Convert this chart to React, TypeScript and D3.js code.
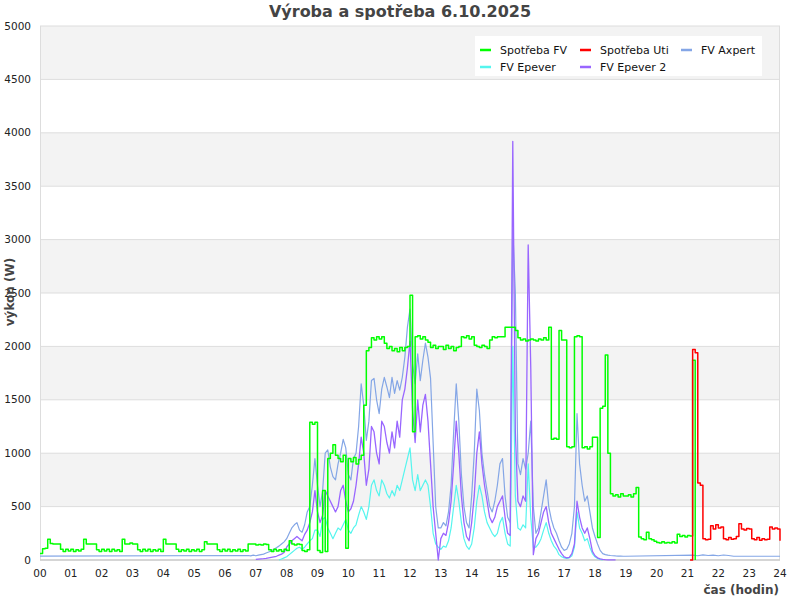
import React from "react";
import * as d3 from "d3";

// ---------- DATA ----------
const hourLabels = ["00","01","02","03","04","05","06","07","08","09","10","11","12","13","14","15","16","17","18","19","20","21","22","23","24"];
const yTicks = [0, 500, 1000, 1500, 2000, 2500, 3000, 3500, 4000, 4500, 5000];

// Spotřeba FV, 5-minute samples from 00:00
const spotrebaFVNight = [
  60,105,110,195,155,150,150,150,100,80,100,85,
  100,80,95,85,100,195,150,150,150,150,95,80,
  100,85,100,80,100,85,95,80,195,150,150,160,
  150,150,95,80,100,85,100,80,95,85,100,80,
  195,150,150,150,150,100,80,95,85,100,80,95,
  85,100,80,95,170,150,150,150,150,95,80,100,
  85,100,80,95,85,100,80,95,85,150,150,150,
  140,145,140,150,145,95,80,100,85,95,80,100,
];
// Spotřeba FV, 5-minute samples from 08:00
const spotrebaFVDay = [
  90,180,150,140,150,145,90,80,95,1290,1270,1290,
  90,70,650,80,950,1000,1080,980,950,920,980,110,
  950,920,960,900,940,980,1450,1960,1990,2080,2060,2090,
  2070,2090,2030,1980,2000,1960,1980,1950,1990,1960,1990,2000,
  2480,1200,2090,2100,2070,2090,2060,2040,1990,2010,1980,2000,
  2000,1970,2010,1980,2000,1960,1990,2000,2090,2080,2100,2070,
  2090,2010,2000,1990,2010,2000,1980,2060,2090,2080,2090,2090,
  2090,2180,2180,2180,2180,2150,2080,2060,2070,2050,2060,2070,
  2060,2050,2070,2060,2080,2060,2180,1130,1140,1130,2150,2060,
  2060,1060,1050,1060,2090,2100,2090,1050,1060,1040,1060,1150,
  1150,210,1420,1440,1920,1000,620,600,610,590,620,600,
  600,610,590,620,680,215,200,190,260,200,190,175,
  165,160,170,160,165,160,170,160,240,220,230,215,
  230,225,1870,0,
];
// Spotřeba Uti, 5-minute samples from 21:05
const spotrebaUti = [
  0,1970,1940,720,700,200,190,195,320,290,330,300,310,200,190,210,195,200,220,340,
  290,280,295,290,200,190,210,185,200,190,195,310,290,300,290,180,
];
// FV Axpert: night points [hour, W] and 5-minute samples from 07:00
const axpertNight = [[0,37],[6.75,42],[6.83,38],[6.92,45]];
const axpertDay = [
  40,45,50,55,65,75,85,100,115,130,150,170,
  200,250,300,330,350,280,260,330,450,500,700,950,
  700,500,650,1000,1030,870,780,750,900,1000,1130,1050,
  800,750,950,1000,1250,1650,1450,1120,1300,1680,1700,1500,
  1370,1600,1710,1620,1520,1710,1560,1680,1590,1710,1900,2180,
  2350,1840,1650,1930,1680,1870,2030,1900,1700,1100,500,300,
  300,350,320,450,700,1200,1650,1300,800,500,350,300,
  600,1000,1600,1400,1000,800,650,500,450,550,700,900,
  950,600,400,350,3100,2500,900,800,950,850,1000,1300,
  500,250,300,450,600,750,500,380,300,250,180,120,
  90,100,150,250,500,1370,900,700,550,600,450,300,
  220,150,90,60,50,45,42,40,38,37,36,35,
];
const axpertEvening = [[19,35],[21.17,45],[21.33,40],[21.5,48],[21.67,42],[21.83,46],[22,40],[22.17,47],[22.33,42],[22.5,35],[24,35]];
// FV Epever, 5-minute samples from 07:45
const epever = [
  0,10,20,
  30,50,70,90,110,120,100,120,150,180,200,280,
  280,220,380,400,300,250,200,250,300,280,330,380,
  280,250,300,330,420,500,450,380,500,700,750,650,
  600,750,700,620,580,650,600,700,650,750,850,950,
  1050,750,650,800,650,700,750,700,500,250,150,120,
  100,130,120,180,300,500,700,550,350,200,130,100,
  150,300,550,700,600,450,350,300,250,220,250,350,
  400,250,150,130,2000,600,300,280,330,300,900,400,
  120,120,150,200,280,350,250,180,130,100,50,30,
  20,15,20,40,120,450,300,250,180,200,120,60,
  30,15,5,2,
];
// FV Epever 2, 5-minute samples from 07:00
const epever2 = [
  5,8,10,12,15,20,25,30,35,45,55,70,
  120,150,180,200,220,200,180,240,280,350,450,650,
  450,350,420,650,600,550,500,450,500,650,700,550,
  450,480,550,700,900,1150,1000,700,850,1250,1200,1000,
  900,1300,1250,1100,1000,1200,1050,1300,1150,1500,1600,1800,
  2050,1400,1100,1500,1200,1450,1550,1300,900,500,250,0,
  200,250,230,350,550,900,1300,1000,600,350,220,180,
  350,600,1000,1200,900,700,550,400,350,400,500,550,
  600,400,250,230,3920,1200,550,500,600,550,2950,1800,
  50,200,250,350,450,500,350,250,200,150,100,60,
  30,20,25,60,150,550,400,300,250,300,200,80,
  40,20,10,5,3,2,2,2,2,
];

const seriesNames = ["Spotřeba FV", "Spotřeba Uti", "FV Axpert", "FV Epever", "FV Epever 2"];
const seriesColors = ["#00ff00", "#ff0000", "#84a6e6", "#55f5ee", "#9966ff"];

// ---------- HELPERS ----------
const fiveMin = (start: number, vals: number[]) => vals.map((v, i) => [start + i / 12, v] as [number, number]);

export default function App() {
  const W = 800, H = 600;
  const x = d3.scaleLinear().domain([0, 24]).range([40, 780]);
  const y = d3.scaleLinear().domain([0, 5000]).range([560, 26]);
  const stepLine = d3.line<[number, number]>().x(d => x(d[0])).y(d => y(d[1])).curve(d3.curveStepAfter);
  const linLine = d3.line<[number, number]>().x(d => x(d[0])).y(d => y(d[1])).curve(d3.curveLinear);

  const greenPts = [...fiveMin(0, spotrebaFVNight), ...fiveMin(8, spotrebaFVDay)];
  const redPts = fiveMin(21 + 1 / 12, spotrebaUti);
  const bluePts = [...(axpertNight as [number, number][]), ...fiveMin(7, axpertDay), ...(axpertEvening as [number, number][])];
  const cyanPts = fiveMin(7.75, epever);
  const purplePts = fiveMin(7, epever2);

  const drawOrder: { pts: [number, number][]; idx: number; w: number; step: boolean }[] = [
    { pts: bluePts, idx: 2, w: 1.2, step: false },
    { pts: cyanPts, idx: 3, w: 1.2, step: false },
    { pts: purplePts, idx: 4, w: 1.3, step: false },
    { pts: greenPts, idx: 0, w: 1.5, step: true },
    { pts: redPts, idx: 1, w: 1.5, step: true },
  ];

  const bands = yTicks.slice(0, -1).filter((_, i) => i % 2 === 1);

  const legendPos = [
    [480, 50], [580, 50], [681, 50], [480, 67], [580, 67],
  ];

  const font = "DejaVu Sans, sans-serif";

  return (
    <svg width={W} height={H} style={{ position: "fixed", left: 0, top: 0, background: "#fff" }} fontFamily={font}>
      <rect x={0} y={0} width={W} height={H} fill="#fff" />
      {bands.map(v => (
        <rect key={"b" + v} x={x(0)} y={y(v + 500)} width={x(24) - x(0)} height={y(v) - y(v + 500)} fill="#f3f3f3" />
      ))}
      {yTicks.map(v => (
        <line key={"g" + v} x1={x(0)} x2={x(24)} y1={y(v)} y2={y(v)} stroke="#dddddd" strokeWidth={1} />
      ))}
      <line x1={x(0) + 0.5} x2={x(0) + 0.5} y1={y(5000)} y2={y(0)} stroke="#dddddd" />
      <line x1={x(24) - 0.5} x2={x(24) - 0.5} y1={y(5000)} y2={y(0)} stroke="#dddddd" />
      <line x1={x(0)} x2={x(24)} y1={y(0)} y2={y(0)} stroke="#cccccc" strokeWidth={1.5} />
      {yTicks.map(v => (
        <text key={"yt" + v} x={31} y={y(v)} dy="0.35em" textAnchor="end" fontSize={10.5} fill="#222">{v}</text>
      ))}
      {hourLabels.map((l, i) => (
        <text key={"xt" + l} x={x(i)} y={577} textAnchor="middle" fontSize={10.5} fill="#222">{l}</text>
      ))}
      {drawOrder.map(s => (
        <path key={"s" + s.idx} d={(s.step ? stepLine : linLine)(s.pts) || ""} fill="none" stroke={seriesColors[s.idx]} strokeWidth={s.w} strokeLinejoin="round" />
      ))}
      <rect x={475} y={36} width={287} height={40} fill="#fff" />
      {seriesNames.map((name, i) => (
        <g key={"l" + i}>
          <line x1={legendPos[i][0]} x2={legendPos[i][0] + 11} y1={legendPos[i][1]} y2={legendPos[i][1]} stroke={seriesColors[i]} strokeWidth={2.5} />
          <text x={legendPos[i][0] + 20} y={legendPos[i][1]} dy="0.35em" fontSize={11} fill="#111">{name}</text>
        </g>
      ))}
      <text x={400} y={17} textAnchor="middle" fontSize={16} fontWeight="bold" fill="#444">Výroba a spotřeba 6.10.2025</text>
      <text transform="translate(14,292) rotate(-90)" textAnchor="middle" fontSize={12} fontWeight="bold" fill="#444">výkon (W)</text>
      <text x={779} y={594} textAnchor="end" fontSize={12} fontWeight="bold" fill="#444">čas (hodin)</text>
    </svg>
  );
}
